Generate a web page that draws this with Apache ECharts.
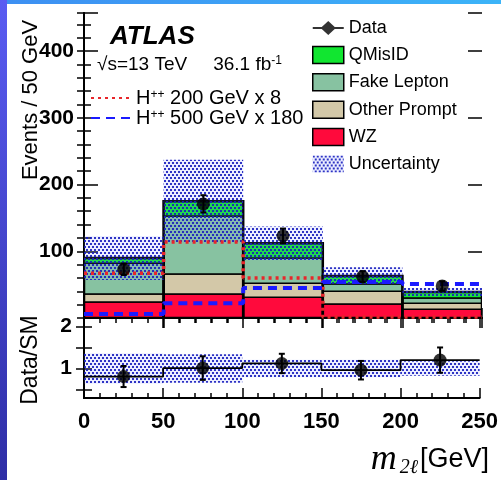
<!DOCTYPE html>
<html><head><meta charset="utf-8">
<script src="https://cdn.jsdelivr.net/npm/echarts@6/dist/echarts.min.js"></script>
<style>html,body{margin:0;padding:0;background:#fff;} #c{width:501px;height:480px;}</style>
</head><body><div id="c"></div>
<script>
// ---- data ----
const binEdges = [0, 50, 100, 150, 200, 250];
const wz = [24, 36, 31, 21, 13];
const otherPrompt = [12, 30, 21, 19, 9];
const fakeLepton = [46, 87, 38, 11, 8];
const qMisID = [8, 22, 22, 12, 9];
const dataCounts = [73, 171, 123, 62, 48];
const dataErr = [8.5, 13, 11, 8, 7];
const uncHalf = [33, 62, 25, 13, 6];
const h200x8 = [67, 114, 60, 1.5, 1.5];
const h500x180 = [6, 22, 45, 54, 51];
const ratio = [0.81, 1.01, 1.12, 0.96, 1.2];
const ratioErr = [0.25, 0.28, 0.23, 0.22, 0.3];
const ratioUncHalf = [0.36, 0.34, 0.21, 0.21, 0.17];
const xTickLabels = [0, 50, 100, 150, 200, 250];
const mainYTickLabels = [100, 200, 300, 400];
const ratioYTickLabels = [1, 2];
const ratioYTicks = [0.5, 1, 1.5, 2];

const FONT = 'Liberation Sans';
const chart = echarts.init(document.getElementById('c'), null, {renderer: 'canvas'});

function makePattern() {
  const c = document.createElement('canvas'); c.width = 4; c.height = 6;
  const g = c.getContext('2d');
  g.fillStyle = 'rgba(130,140,255,0.15)'; g.fillRect(0, 0, 4, 6);
  g.fillStyle = 'rgba(25,30,190,0.9)';
  g.fillRect(0, 0, 2, 2); g.fillRect(2, 3, 2, 2);
  return c;
}
const pat = {image: makePattern(), repeat: 'repeat'};

const centers = binEdges.slice(0, -1).map((e, i) => (e + binEdges[i + 1]) / 2);
const comps = [
  {name: 'WZ', vals: wz, color: '#ff0a3c'},
  {name: 'Other Prompt', vals: otherPrompt, color: '#d3c8a8'},
  {name: 'Fake Lepton', vals: fakeLepton, color: '#87c2a1'},
  {name: 'QMisID', vals: qMisID, color: '#11e630'}
];
let base = wz.map(() => 0);
comps.forEach(c => {
  c.data = c.vals.map((v, i) => [binEdges[i], binEdges[i + 1], base[i], base[i] + v]);
  base = base.map((b, i) => b + c.vals[i]);
});
const smTotal = base;

function rectRender(fill, stroke, lw) {
  return function (params, api) {
    const a = api.coord([api.value(0), api.value(3)]);
    const b = api.coord([api.value(1), api.value(2)]);
    return {type: 'rect', shape: {x: a[0], y: a[1], width: b[0] - a[0], height: b[1] - a[1]},
      style: {fill: fill, stroke: stroke, lineWidth: lw}};
  };
}
function errRender(cap) {
  return function (params, api) {
    const x = api.value(0), lo = api.value(1), hi = api.value(2);
    const p = api.coord([x, lo]), q = api.coord([x, hi]);
    const st = {stroke: '#000', lineWidth: 2};
    return {type: 'group', children: [
      {type: 'line', shape: {x1: p[0], y1: p[1], x2: q[0], y2: q[1]}, style: st},
      {type: 'line', shape: {x1: p[0] - cap, y1: p[1], x2: p[0] + cap, y2: p[1]}, style: st},
      {type: 'line', shape: {x1: q[0] - cap, y1: q[1], x2: q[0] + cap, y2: q[1]}, style: st}
    ]};
  };
}
function stepPts(vals) {
  const pts = [];
  vals.forEach((v, i) => { pts.push([binEdges[i], v]); pts.push([binEdges[i + 1], v]); });
  return pts;
}

const series = [];
comps.forEach(c => {
  series.push({type: 'custom', name: c.name, xAxisIndex: 0, yAxisIndex: 0, z: 2,
    itemStyle: {color: c.color}, renderItem: rectRender(c.color, '#000', 1.5),
    encode: {x: [0, 1], y: [2, 3]}, data: c.data, clip: true});
});
// stack top outline
series.push({type: 'custom', xAxisIndex: 0, yAxisIndex: 0, z: 2, silent: true,
  renderItem: rectRender('none', '#000', 2.5), encode: {x: [0, 1], y: [2, 3]},
  data: smTotal.map((t, i) => [binEdges[i], binEdges[i + 1], 0, t]), clip: true});
series.push({type: 'custom', name: 'Uncertainty', xAxisIndex: 0, yAxisIndex: 0, z: 3,
  itemStyle: {color: pat}, renderItem: rectRender(pat, null, 0), encode: {x: [0, 1], y: [2, 3]},
  data: smTotal.map((t, i) => [binEdges[i], binEdges[i + 1], t - uncHalf[i], t + uncHalf[i]]), clip: true});
series.push({type: 'line', name: 'H++ 200 GeV x 8', xAxisIndex: 0, yAxisIndex: 0, z: 4,
  showSymbol: false, symbol: 'none', data: stepPts(h200x8),
  lineStyle: {color: '#e8262a', width: 3.5, type: [3, 4]}, itemStyle: {color: '#e8262a'}});
series.push({type: 'line', name: 'H++ 500 GeV x 180', xAxisIndex: 0, yAxisIndex: 0, z: 4,
  showSymbol: false, symbol: 'none', data: stepPts(h500x180),
  lineStyle: {color: '#1a1aff', width: 4, type: [9, 6]}, itemStyle: {color: '#1a1aff'}});
series.push({type: 'custom', xAxisIndex: 0, yAxisIndex: 0, z: 5, silent: true,
  renderItem: errRender(3), encode: {x: 0, y: [1, 2]},
  data: dataCounts.map((d, i) => [centers[i], d - dataErr[i], d + dataErr[i]])});
series.push({type: 'scatter', name: 'Data', xAxisIndex: 0, yAxisIndex: 0, z: 6,
  symbol: 'circle', symbolSize: 13, itemStyle: {color: '#000'},
  data: dataCounts.map((d, i) => [centers[i], d])});
// ratio panel
series.push({type: 'custom', xAxisIndex: 2, yAxisIndex: 2, z: 3, silent: true,
  renderItem: rectRender(pat, null, 0), encode: {x: [0, 1], y: [2, 3]},
  data: ratioUncHalf.map((u, i) => [binEdges[i], binEdges[i + 1], 1 - u, 1 + u]), clip: true});
series.push({type: 'line', xAxisIndex: 2, yAxisIndex: 2, z: 4, silent: true,
  showSymbol: false, symbol: 'none', data: stepPts(ratio),
  lineStyle: {color: '#000', width: 1.8}});
series.push({type: 'custom', xAxisIndex: 2, yAxisIndex: 2, z: 5, silent: true,
  renderItem: errRender(3), encode: {x: 0, y: [1, 2]},
  data: ratio.map((r, i) => [centers[i], r - ratioErr[i], r + ratioErr[i]])});
series.push({type: 'scatter', xAxisIndex: 2, yAxisIndex: 2, z: 6, silent: true,
  symbol: 'circle', symbolSize: 13, itemStyle: {color: '#000'},
  data: ratio.map((r, i) => [centers[i], r])});

const axLine = {show: true, lineStyle: {color: '#000', width: 2}};
function xAx(grid, pos, showLabels) {
  return {type: 'value', gridIndex: grid, position: pos, min: 0, max: 250, interval: 50,
    axisLine: axLine, splitLine: {show: false},
    axisTick: {show: true, inside: true, length: 10, lineStyle: {color: '#000', width: 1.5}},
    minorTick: {show: true, splitNumber: 5, length: 5, lineStyle: {color: '#000', width: 1.5}},
    axisLabel: showLabels ? {show: true, margin: 13, fontFamily: FONT, fontWeight: 'bold', fontSize: 22, color: '#000',
      customValues: xTickLabels} : {show: false}};
}
function mainY(pos, interval, len, showLabels, line) {
  return {type: 'value', gridIndex: 0, position: pos, min: 0, max: 457, interval: interval,
    axisLine: line ? axLine : {show: false}, splitLine: {show: false},
    axisTick: {show: true, inside: true, length: len, lineStyle: {color: '#000', width: 1.5}},
    axisLabel: showLabels ? {show: true, margin: 10, fontFamily: FONT, fontWeight: 'bold', fontSize: 21, color: '#000',
      formatter: v => mainYTickLabels.indexOf(v) >= 0 ? String(v) : ''} : {show: false}};
}
function ratioY(pos, showLabels) {
  return {type: 'value', gridIndex: 1, position: pos, min: 0.3, max: 2.2,
    axisLine: axLine, splitLine: {show: false},
    axisTick: {show: true, inside: true, length: 8, customValues: ratioYTicks, lineStyle: {color: '#000', width: 1.5}},
    axisLabel: showLabels ? {show: true, margin: 12, fontFamily: FONT, fontWeight: 'bold', fontSize: 21, color: '#000',
      customValues: ratioYTickLabels} : {show: false}};
}
const boxStyle = {borderColor: '#000', borderWidth: 1.5};

const option = {
  animation: false,
  backgroundColor: '#fff',
  grid: [
    {left: 84, top: 13, width: 398, height: 305},
    {left: 84, top: 318, width: 398, height: 80}
  ],
  xAxis: [xAx(0, 'bottom', false), xAx(0, 'top', false), xAx(1, 'bottom', true), xAx(1, 'top', false)],
  yAxis: [mainY('left', 20, 7, true, true), mainY('right', 20, 7, false, true), ratioY('left', true), ratioY('right', false),
    mainY('left', 100, 14, false, false), mainY('right', 100, 14, false, false)],
  legend: [
    {orient: 'vertical', left: 312, top: 19, padding: 0, itemWidth: 31, itemHeight: 17, itemGap: 8.8,
      textStyle: {fontFamily: FONT, fontSize: 18, lineHeight: 17, color: '#000'},
      data: [
        {name: 'Data', icon: 'path://M0,7.5L9,7.5L15.5,1.5L22,7.5L31,7.5L31,9.5L22,9.5L15.5,15.5L9,9.5L0,9.5Z'},
        {name: 'QMisID', icon: 'rect', itemStyle: boxStyle},
        {name: 'Fake Lepton', icon: 'rect', itemStyle: boxStyle},
        {name: 'Other Prompt', icon: 'rect', itemStyle: boxStyle},
        {name: 'WZ', icon: 'rect', itemStyle: boxStyle},
        {name: 'Uncertainty', icon: 'rect'}
      ]},
    {orient: 'vertical', left: 90, top: 88, padding: 0, itemWidth: 40, itemHeight: 10, itemGap: 0,
      textStyle: {fontFamily: FONT, fontSize: 20, lineHeight: 19, color: '#000',
        rich: {h: {fontSize: 20, lineHeight: 19, fontFamily: FONT},
          s: {fontSize: 12, lineHeight: 19, fontFamily: FONT, verticalAlign: 'top'},
          t: {fontSize: 20, lineHeight: 19, fontFamily: FONT}}},
      formatter: n => '{h|H}{s|++}{t|' + n.replace('H++', '') + '}',
      data: [{name: 'H++ 200 GeV x 8', itemStyle: {opacity: 0}}, {name: 'H++ 500 GeV x 180', itemStyle: {opacity: 0}}]}
  ],
  graphic: [
    {type: 'rect', left: 0, top: 0, z: 100, shape: {width: 501, height: 4},
      style: {fill: new echarts.graphic.LinearGradient(0, 0, 1, 0, [{offset: 0, color: '#3d8ff2'}, {offset: 1, color: '#3cb4f8'}])}},
    {type: 'rect', left: 0, top: 0, z: 100, shape: {width: 7, height: 480},
      style: {fill: new echarts.graphic.LinearGradient(0, 0, 0, 1, [{offset: 0, color: '#5a5cf2'}, {offset: 1, color: '#2e2ea6'}])}},
    {type: 'text', x: 110, y: 37, z: 100, style: {text: 'ATLAS', fontFamily: FONT, fontWeight: 'bold', fontStyle: 'italic',
      fontSize: 26, fill: '#000', textVerticalAlign: 'middle'}},
    {type: 'text', x: 97, y: 65, z: 100, style: {text: '{a|√s=13 TeV}{g| }{a|36.1 fb}{s|-1}', fontFamily: FONT, fontSize: 19, fill: '#000',
      textVerticalAlign: 'middle',
      rich: {a: {fontFamily: FONT, fontSize: 19, lineHeight: 20}, g: {width: 26}, s: {fontFamily: FONT, fontSize: 12, lineHeight: 20, verticalAlign: 'top'}}}},
    {type: 'text', x: 31, y: 100, rotation: Math.PI / 2, z: 100, style: {text: 'Events / 50 GeV', fontFamily: FONT, fontSize: 22,
      fill: '#000', textAlign: 'center', textVerticalAlign: 'middle'}},
    {type: 'text', x: 31, y: 360, rotation: Math.PI / 2, z: 100, style: {text: 'Data/SM', fontFamily: FONT, fontSize: 23,
      fill: '#000', textAlign: 'center', textVerticalAlign: 'middle'}},
    {type: 'text', x: 489, y: 460, z: 100, style: {text: '{m|m}{sub|2ℓ}{g|[GeV]}', textAlign: 'right', textVerticalAlign: 'middle',
      rich: {m: {fontFamily: 'Liberation Serif', fontStyle: 'italic', fontSize: 36, fill: '#000'},
        sub: {fontFamily: 'Liberation Serif', fontStyle: 'italic', fontSize: 20, fill: '#000', verticalAlign: 'bottom', padding: [16, 2, 0, 3]},
        g: {fontFamily: FONT, fontSize: 27, fill: '#000'}}}}
  ],
  series: series
};
chart.setOption(option);
</script></body></html>
